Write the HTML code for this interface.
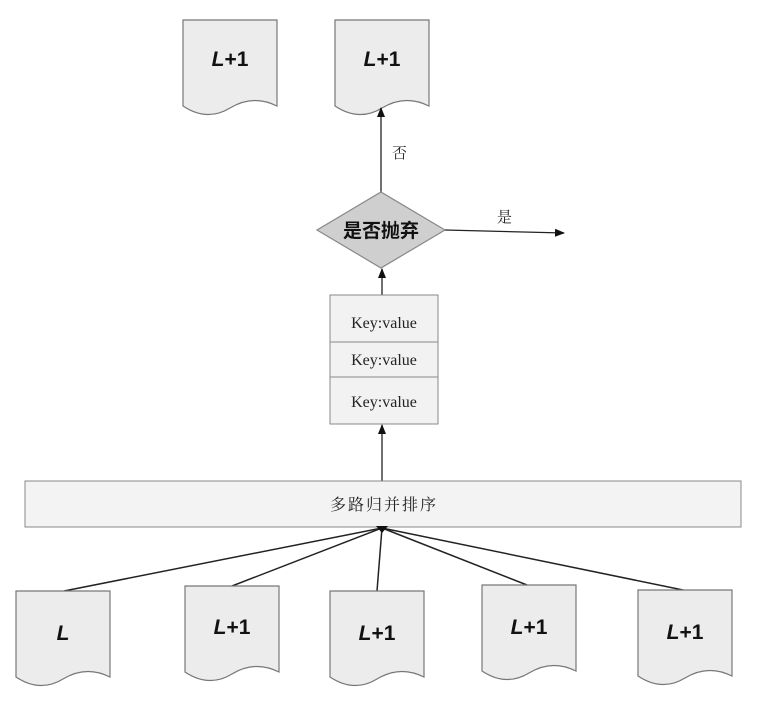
<!DOCTYPE html>
<html><head><meta charset="utf-8"><style>
html,body{margin:0;padding:0;background:#fff;}
svg{display:block;}
.t{font-family:"Liberation Sans","Noto Sans CJK SC",sans-serif;font-weight:bold;font-size:21px;fill:#111;}
.c{font-family:"Liberation Serif","Noto Serif CJK SC",serif;font-size:15px;fill:#222;}
.k{font-family:"Liberation Serif",serif;font-size:16px;fill:#222;}
</style></head><body>
<svg width="762" height="704" viewBox="0 0 762 704" xmlns="http://www.w3.org/2000/svg">
<defs>
<marker id="a" markerWidth="10" markerHeight="10" refX="9" refY="5" orient="auto" markerUnits="userSpaceOnUse"><path d="M0,1 L10,5 L0,9 z" fill="#111"/></marker>
<g id="doc"><path d="M0,0 H94 V86 Q70,74 47,88 T0,86 Z" fill="#ececec" stroke="#777" stroke-width="1.2"/></g>
</defs>
<!-- top docs -->
<use href="#doc" x="183" y="20"/>
<text class="t" x="230" y="66" text-anchor="middle"><tspan font-style="italic">L</tspan>+1</text>
<use href="#doc" x="335" y="20"/>
<text class="t" x="382" y="66" text-anchor="middle"><tspan font-style="italic">L</tspan>+1</text>
<!-- arrow diamond -> top doc -->
<line x1="381" y1="192" x2="381" y2="108" stroke="#222" stroke-width="1.3" marker-end="url(#a)"/>
<text class="c" x="392" y="158">否</text>
<!-- diamond -->
<polygon points="381,192 445,230 381,268 317,230" fill="#cfcfcf" stroke="#888" stroke-width="1.2"/>
<text x="381" y="237" text-anchor="middle" style="font-family:'Liberation Sans','Noto Sans CJK SC',sans-serif;font-weight:bold;font-size:19px;fill:#111">是否抛弃</text>
<line x1="445" y1="230" x2="564" y2="233" stroke="#222" stroke-width="1.3" marker-end="url(#a)"/>
<text class="c" x="497" y="222">是</text>
<!-- kv box -->
<line x1="382" y1="295" x2="382" y2="269" stroke="#222" stroke-width="1.3" marker-end="url(#a)"/>
<rect x="330" y="295" width="108" height="129" fill="#f2f2f2" stroke="#888" stroke-width="1"/>
<line x1="330" y1="342" x2="438" y2="342" stroke="#888"/>
<line x1="330" y1="377" x2="438" y2="377" stroke="#888"/>
<text class="k" x="384" y="328" text-anchor="middle">Key:value</text>
<text class="k" x="384" y="365" text-anchor="middle">Key:value</text>
<text class="k" x="384" y="407" text-anchor="middle">Key:value</text>
<line x1="382" y1="481" x2="382" y2="425" stroke="#222" stroke-width="1.3" marker-end="url(#a)"/>
<!-- bar -->
<rect x="25" y="481" width="716" height="46" fill="#f3f3f3" stroke="#888" stroke-width="1"/>
<text class="c" x="384" y="510" text-anchor="middle" style="font-size:16px;letter-spacing:2px">多路归并排序</text>
<!-- fan lines -->
<g stroke="#222" stroke-width="1.5">
<line x1="382" y1="528" x2="64" y2="591"/>
<line x1="382" y1="528" x2="232" y2="586"/>
<line x1="382" y1="528" x2="377" y2="591"/>
<line x1="382" y1="528" x2="527" y2="585"/>
<line x1="382" y1="528" x2="683" y2="590"/>
</g>
<path d="M376,526 L388,526 L382,533 z" fill="#111"/>
<!-- bottom docs -->
<use href="#doc" x="16" y="591"/>
<text class="t" x="63" y="640" text-anchor="middle" font-style="italic">L</text>
<use href="#doc" x="185" y="586"/>
<text class="t" x="232" y="634" text-anchor="middle"><tspan font-style="italic">L</tspan>+1</text>
<use href="#doc" x="330" y="591"/>
<text class="t" x="377" y="640" text-anchor="middle"><tspan font-style="italic">L</tspan>+1</text>
<use href="#doc" x="482" y="585"/>
<text class="t" x="529" y="634" text-anchor="middle"><tspan font-style="italic">L</tspan>+1</text>
<use href="#doc" x="638" y="590"/>
<text class="t" x="685" y="639" text-anchor="middle"><tspan font-style="italic">L</tspan>+1</text>
</svg>
</body></html>
